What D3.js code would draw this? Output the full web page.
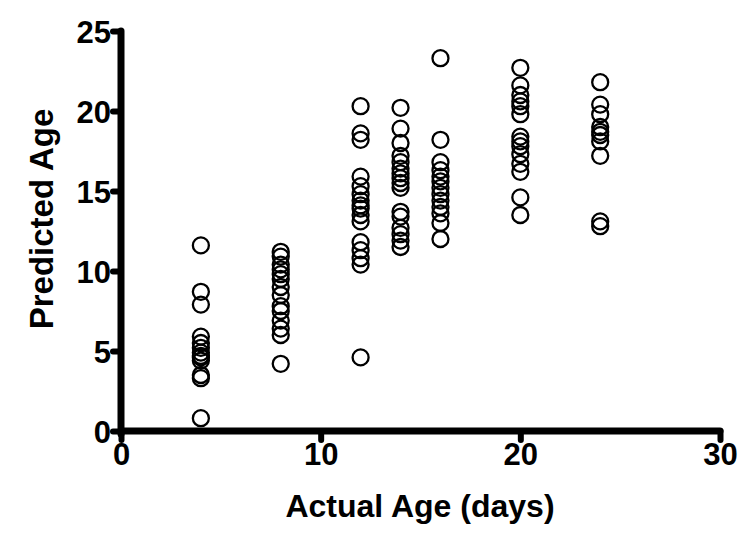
<!DOCTYPE html>
<html>
<head>
<meta charset="utf-8">
<script src="https://cdn.jsdelivr.net/npm/d3@7"></script>
<style>
  html, body { margin: 0; padding: 0; background: #fff; }
  svg { display: block; }
  text { font-family: "Liberation Sans", Arial, sans-serif; font-weight: bold; fill: #000; }
</style>
</head>
<body>
<svg id="chart" width="750" height="543"></svg>
<script>
// Data: actual age groups (days) and predicted ages for each group
const actualAges = [4, 8, 12, 14, 16, 20, 24];
const predicted4 = [11.6, 8.7, 7.9, 5.9, 5.5, 5.2, 4.9, 4.7, 4.6, 4.4, 3.5, 3.3, 0.8];
const predicted8 = [11.2, 10.9, 10.4, 10.1, 9.8, 9.5, 9.0, 8.5, 7.8, 7.5, 6.9, 6.4, 6.0, 4.2];
const predicted12 = [20.3, 18.6, 18.2, 15.9, 15.3, 14.8, 14.4, 14.1, 13.9, 13.5, 13.1, 11.8, 11.3, 10.8, 10.4, 4.6];
const predicted14 = [20.2, 18.9, 18.0, 17.2, 16.8, 16.4, 16.1, 15.8, 15.5, 15.2, 13.7, 13.4, 12.7, 12.3, 11.9, 11.5];
const predicted16 = [23.3, 18.2, 16.8, 16.3, 15.9, 15.6, 15.2, 14.8, 14.4, 14.0, 13.6, 13.0, 12.0];
const predicted20 = [22.7, 21.6, 21.0, 20.6, 20.3, 19.8, 18.4, 18.1, 17.8, 17.3, 16.7, 16.2, 14.6, 13.5];
const predicted24 = [21.8, 20.4, 19.8, 19.0, 18.7, 18.5, 18.1, 17.2, 13.1, 12.8];
const predictedByGroup = [predicted4, predicted8, predicted12, predicted14, predicted16, predicted20, predicted24];
const xTicks = [0, 10, 20, 30];
const yTicks = [0, 5, 10, 15, 20, 25];
const xTitle = "Actual Age (days)";
const yTitle = "Predicted Age";

const points = [];
actualAges.forEach((a, i) => predictedByGroup[i].forEach(v => points.push({x: a, y: v})));

const svg = d3.select("#chart");
const x = d3.scaleLinear().domain([0, 30]).range([121, 720]);
const y = d3.scaleLinear().domain([0, 25]).range([431, 31]);

// Y axis
const yAxis = svg.append("g")
  .attr("transform", `translate(${x(0)},0)`)
  .call(d3.axisLeft(y).tickValues(yTicks).tickSize(8).tickPadding(2).tickFormat(d3.format("d")));
yAxis.select(".domain").attr("stroke", "#000").attr("stroke-width", 7).attr("stroke-linecap", "round")
  .attr("d", `M0,${y(25)}V${y(0) + 3}`);
yAxis.selectAll(".tick line").attr("stroke", "#000").attr("stroke-width", 6).attr("stroke-linecap", "round");
yAxis.selectAll(".tick text").style("font-size", "31px").attr("dy", "0.36em");

// X axis
const xAxis = svg.append("g")
  .attr("transform", `translate(0,${y(0)})`)
  .call(d3.axisBottom(x).tickValues(xTicks).tickSize(9).tickPadding(3).tickFormat(d3.format("d")));
xAxis.select(".domain").attr("stroke", "#000").attr("stroke-width", 7).attr("stroke-linecap", "round")
  .attr("d", `M${x(0)},0H${x(30)}`);
xAxis.selectAll(".tick line").attr("stroke", "#000").attr("stroke-width", 6).attr("stroke-linecap", "round");
xAxis.selectAll(".tick text").style("font-size", "31px");

// Points
svg.append("g").selectAll("circle").data(points).join("circle")
  .attr("cx", d => x(d.x))
  .attr("cy", d => y(d.y))
  .attr("r", 8)
  .attr("fill", "none")
  .attr("stroke", "#000")
  .attr("stroke-width", 2.3);

// Titles
svg.append("text")
  .attr("x", 420).attr("y", 517)
  .attr("text-anchor", "middle")
  .style("font-size", "32px")
  .text(xTitle);

svg.append("text")
  .attr("transform", "translate(53,219) rotate(-90)")
  .attr("text-anchor", "middle")
  .style("font-size", "33px")
  .text(yTitle);
</script>
</body>
</html>
